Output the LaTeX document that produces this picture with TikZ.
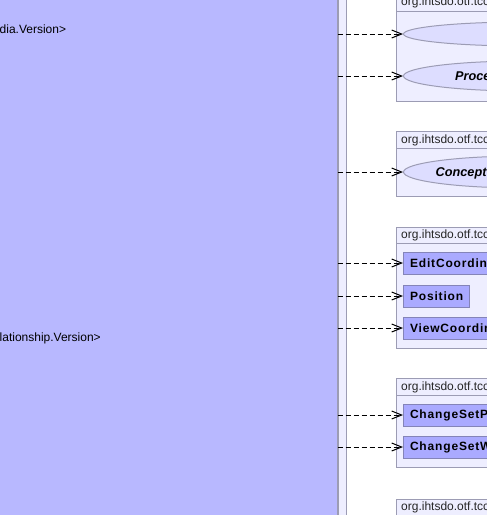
\documentclass[tikz,border=0pt]{standalone}
\usepackage{fontspec}
\setmainfont{Liberation Sans}
\newfontfamily\clsfont{Liberation Sans}[LetterSpace=7]
\usetikzlibrary{shapes.geometric,arrows.meta}
\definecolor{bigfill}{HTML}{B8B8FF}
\definecolor{pkgfill}{HTML}{EEEEFF}
\definecolor{pkgline}{HTML}{9C9CB4}
\definecolor{ellfill}{HTML}{DDDDFF}
\definecolor{clsfill}{HTML}{AAAAFF}
\definecolor{clsline}{HTML}{8484B8}
\begin{document}
\begin{tikzpicture}[x=1pt,y=-1pt,
  font=\fontsize{12}{14}\selectfont,
  pkgpart/.style={draw=pkgline, fill=pkgfill, line width=1pt, inner sep=0pt, anchor=north west, minimum width=200pt},
  pkglabel/.style={anchor=base west, inner sep=0pt, text=black!85},
  ell/.style={ellipse, draw=pkgline, fill=ellfill, line width=1pt, inner sep=0pt, anchor=west, minimum width=240pt},
  elltext/.style={anchor=base west, inner sep=0pt, font=\fontsize{12.7}{14}\selectfont\bfseries\itshape},
  cls/.style={draw=clsline, fill=clsfill, line width=1pt, anchor=west, minimum height=22pt, inner xsep=6.5pt, inner ysep=0pt, font=\fontsize{12}{14}\clsfont\bfseries},
  wide/.style={text width=120pt, align=left},
  dep/.style={draw=black, line width=1pt, dash pattern=on 5pt off 3pt, -{Straight Barb[length=10pt,width=8pt,line width=1pt]}}
]
\useasboundingbox (0,0) rectangle (487,515);
\clip (0,0) rectangle (487,515);
\fill[white] (0,0) rectangle (487,515);

% large class box and its side strip
\node[draw=pkgline, fill=bigfill, line width=1pt, minimum width=360pt, minimum height=580pt, inner sep=0pt, anchor=north east] (big) at (337.5,-30) {};
\node[draw=pkgline, fill=pkgfill, line width=1pt, minimum width=8pt, minimum height=580pt, inner sep=0pt, anchor=north west] (strip) at (337.5,-30) {};
\node[anchor=base west, inner sep=0pt] (bt1) at (-0.5,33) {dia.Version>};
\node[anchor=base west, inner sep=0pt] (bt2) at (-0.5,341) {lationship.Version>};

% package 1
\node[pkgpart, minimum height=30pt] (p1tab) at (395.5,-19.5) {};
\node[pkgpart, minimum height=90pt] (p1) at (395.5,10.5) {};
\node[pkglabel] (p1l) at (401,5.5) {org.ihtsdo.otf.tcc};
\node[ell, minimum height=24pt] (e1) at (403,34) {};
\node[ell, minimum height=30pt] (e2) at (403,76) {};
\node[elltext] (e2t) at (455,80.5) {Proce};

% package 2
\node[pkgpart, minimum height=17pt] (p2tab) at (395.5,131) {};
\node[pkgpart, minimum height=48pt] (p2) at (395.5,148) {};
\node[pkglabel] (p2l) at (401,143) {org.ihtsdo.otf.tcc};
\node[ell, minimum height=32pt] (e3) at (403,172) {};
\node[elltext] (e3t) at (435.5,176.5) {Concept};

% package 3
\node[pkgpart, minimum height=16pt] (p3tab) at (395.5,227) {};
\node[pkgpart, minimum height=105pt] (p3) at (395.5,243) {};
\node[pkglabel] (p3l) at (401,238.5) {org.ihtsdo.otf.tcc};
\node[cls, wide] (c1) at (403,263) {EditCoordin};
\node[cls] (c2) at (403,296) {Position};
\node[cls, wide] (c3) at (403,328) {ViewCoordin};

% package 4
\node[pkgpart, minimum height=17pt] (p4tab) at (395.5,378) {};
\node[pkgpart, minimum height=72pt] (p4) at (395.5,395) {};
\node[pkglabel] (p4l) at (401,390) {org.ihtsdo.otf.tcc};
\node[cls, wide] (c4) at (403,415) {ChangeSetP};
\node[cls, wide] (c5) at (403,447) {ChangeSetW};

% package 5
\node[pkgpart, minimum height=16pt] (p5tab) at (395.5,499) {};
\node[pkgpart, minimum height=40pt] (p5) at (395.5,515) {};
\node[pkglabel] (p5l) at (401,510.5) {org.ihtsdo.otf.tcc};

% dependencies
\foreach \t in {e1,e2,e3,c1,c2,c3,c4,c5}{
  \draw[dep] (big.east |- \t.west) -- (\t.west);
}
\end{tikzpicture}
\end{document}
